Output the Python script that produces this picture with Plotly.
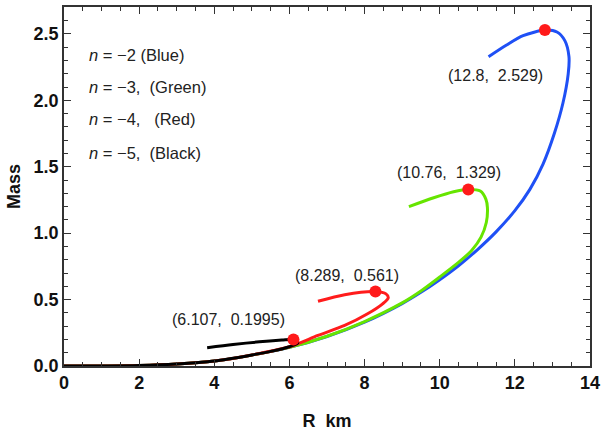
import plotly.graph_objects as go

# Mass-radius sequences (R in km, mass), one per polytropic index n
blue_r = [0, 1, 2, 3, 4, 5, 6, 7, 8, 9, 9.5, 10, 10.5, 11, 11.5, 12, 12.4, 12.75, 13.05, 13.28, 13.42, 13.44, 13.33, 13.12, 12.8, 12.22, 11.78, 11.30]
blue_m = [0, 0.0005, 0.004, 0.015, 0.037, 0.082, 0.14, 0.222, 0.33, 0.47, 0.555, 0.65, 0.755, 0.875, 1.01, 1.17, 1.33, 1.52, 1.75, 1.98, 2.2, 2.33, 2.45, 2.515, 2.529, 2.487, 2.417, 2.329]

green_r = [0, 1, 2, 3, 4, 5, 6, 7, 8, 9, 9.5, 10.0, 10.5, 10.85, 11.1, 11.24, 11.27, 11.23, 11.08, 10.76, 10.37, 9.84, 9.18]
green_m = [0, 0.0005, 0.004, 0.015, 0.037, 0.082, 0.14, 0.224, 0.335, 0.475, 0.565, 0.67, 0.78, 0.87, 0.97, 1.08, 1.192, 1.255, 1.317, 1.329, 1.312, 1.267, 1.2]

red_r = [0, 1, 2, 3, 4, 5, 6, 6.76, 7.47, 8.08, 8.48, 8.63, 8.57, 8.289, 7.47, 6.76]
red_m = [0, 0.0005, 0.004, 0.015, 0.037, 0.083, 0.145, 0.23, 0.305, 0.393, 0.468, 0.513, 0.543, 0.561, 0.537, 0.487]

black_r = [0, 1, 2, 3, 4, 5, 5.5, 6.0, 6.22, 6.2, 6.107, 5.8, 5.2, 4.5, 3.81]
black_m = [0, 0.0005, 0.004, 0.015, 0.037, 0.083, 0.11, 0.145, 0.172, 0.19, 0.1995, 0.195, 0.182, 0.162, 0.138]

# Maximum-mass configurations
peak_r = [12.8, 10.76, 8.289, 6.107]
peak_m = [2.529, 1.329, 0.561, 0.1995]
peak_text = ["(12.8,\u00a0\u00a02.529)", "(10.76,\u00a0\u00a01.329)", "(8.289,\u00a0\u00a00.561)", "(6.107,\u00a0\u00a00.1995)"]
label_r = [11.49, 10.26, 7.53, 4.38]
label_m = [2.187, 1.454, 0.684, 0.35]

legend_lines = [
    "<i>n</i>\u00a0=\u00a0\u22122\u00a0(Blue)",
    "<i>n</i>\u00a0=\u00a0\u22123,\u00a0\u00a0(Green)",
    "<i>n</i>\u00a0=\u00a0\u22124,\u00a0\u00a0\u00a0(Red)",
    "<i>n</i>\u00a0=\u00a0\u22125,\u00a0\u00a0(Black)",
]
legend_m = [2.342, 2.104, 1.862, 1.604]

series = [
    (blue_r, blue_m, "#1f50f5"),
    (green_r, green_m, "#66e500"),
    (red_r, red_m, "#ff1c1c"),
    (black_r, black_m, "#000000"),
]

fig = go.Figure()
for r, m, c in series:
    fig.add_trace(go.Scatter(x=r, y=m, mode="lines",
                             line=dict(color=c, width=3, shape="spline", smoothing=0.8),
                             hoverinfo="skip", showlegend=False))

fig.add_trace(go.Scatter(x=peak_r, y=peak_m, mode="markers",
                         marker=dict(color="#ff1a1a", size=12),
                         showlegend=False, cliponaxis=False))

text_font = dict(family="Liberation Sans, Arial", size=16, color="#222222")
for x, y, t in zip(label_r, label_m, peak_text):
    fig.add_annotation(x=x, y=y, text=t, showarrow=False, font=text_font,
                       xanchor="center", yanchor="middle")
for y, t in zip(legend_m, legend_lines):
    fig.add_annotation(x=0.61, y=y, text=t, showarrow=False,
                       font=dict(family="Liberation Sans, Arial", size=16.5, color="#222222"),
                       xanchor="left", yanchor="middle")

bold18 = dict(family="Liberation Sans, Arial", size=18, color="#111111", weight="bold")
axis_common = dict(
    showline=True, linecolor="#333333", linewidth=1.5, mirror="allticks",
    ticks="inside", ticklen=7, tickwidth=1.2, tickcolor="#333333",
    showgrid=False, zeroline=False, tickfont=bold18,
)

fig.update_xaxes(range=[0, 14], dtick=2, tick0=0,
                 minor=dict(dtick=0.5, ticks="inside", ticklen=4, tickcolor="#333333", tickwidth=1),
                 title=dict(text="R\u00a0\u00a0km", font=bold18, standoff=22),
                 **axis_common)
fig.update_yaxes(range=[0, 2.703], dtick=0.5, tick0=0, tickformat=".1f",
                 minor=dict(dtick=0.1, ticks="inside", ticklen=4, tickcolor="#333333", tickwidth=1),
                 title=dict(text="Mass", font=bold18, standoff=8),
                 **axis_common)

fig.update_layout(width=605, height=434, margin=dict(l=64, r=11, t=5, b=68),
                  plot_bgcolor="white", paper_bgcolor="white")

fig.write_html("out.html")
